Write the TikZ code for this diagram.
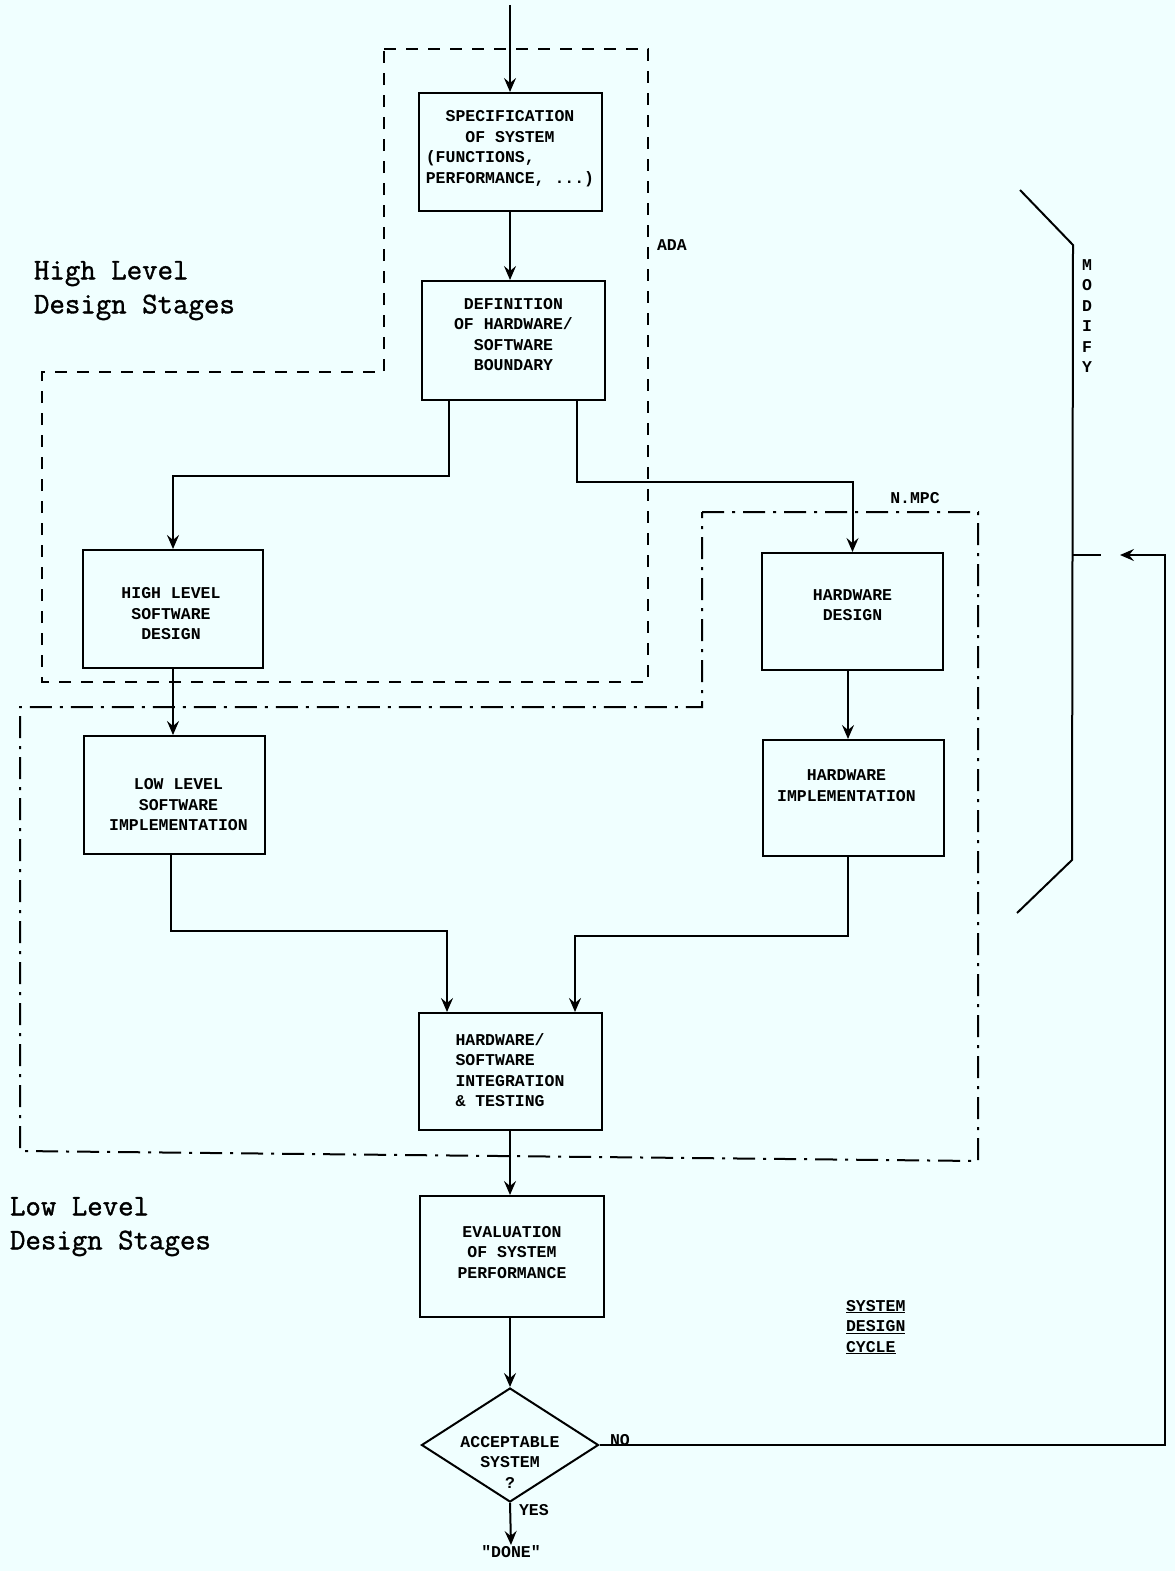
\documentclass[tikz,border=0pt]{standalone}
\usepackage{fontspec}
\usetikzlibrary{arrows.meta,shapes.geometric,calc}
\newfontfamily\plotfont{Liberation Mono}
\newfontfamily\typefont{Latin Modern Mono}[FakeBold=1.2]
\definecolor{paper}{RGB}{240,255,255}
\newcommand\boxfont{\plotfont\bfseries\fontsize{16.5}{20.5}\selectfont}
\newcommand\stagefont{\typefont\fontsize{30}{34}\selectfont}
\begin{document}
\begin{tikzpicture}[x=1pt,y=-1pt,
  line width=2pt,
  arr/.style={-{Stealth[length=14pt,width=12pt,inset=5pt]}},
  stagebox/.style={draw,inner sep=0pt},
  adaline/.style={line width=2pt,dash pattern=on 12pt off 10pt},
  mpcline/.style={line width=2pt,dash pattern=on 22pt off 8pt on 3pt off 8pt},
  lbl/.style={font=\boxfont,inner sep=0pt}]
\fill[paper] (0,0) rectangle (1175,1571);
\useasboundingbox (0,0) rectangle (1175,1571);

% design stage boxes
\node[stagebox,minimum width=183pt,minimum height=118pt] (spec) at (510,152) {};
\node[stagebox,minimum width=183pt,minimum height=119pt] (def) at (513.5,340.5) {};
\node[stagebox,minimum width=180pt,minimum height=118pt] (hlsd) at (173,609) {};
\node[stagebox,minimum width=181pt,minimum height=117pt] (hwd) at (852.5,611.5) {};
\node[stagebox,minimum width=181pt,minimum height=118pt] (llsi) at (174.5,795) {};
\node[stagebox,minimum width=181pt,minimum height=116pt] (hwi) at (853.5,798) {};
\node[stagebox,minimum width=183pt,minimum height=117pt] (integ) at (510,1071.5) {};
\node[stagebox,minimum width=184pt,minimum height=121pt] (eval) at (512,1256.5) {};
\node[diamond,draw,inner sep=0pt,minimum width=177pt,minimum height=114pt] (acc) at (510,1445) {};

% box texts
\node[lbl,align=center] at ([yshift=3.5pt]spec.center)
  {SPECIFICATION\\OF SYSTEM\\(FUNCTIONS,\phantom{XXXXXX}\\PERFORMANCE, ...)};
\node[lbl,align=center] at ([yshift=6pt]def.center)
  {DEFINITION\\OF HARDWARE/\\SOFTWARE\\BOUNDARY};
\node[lbl,align=center] at ([yshift=-5pt,xshift=-2pt]hlsd.center)
  {HIGH LEVEL\\SOFTWARE\\DESIGN};
\node[lbl,align=center] at ([yshift=6.5pt]hwd.center)
  {HARDWARE\\DESIGN};
\node[lbl,align=center] at ([yshift=-10pt,xshift=4pt]llsi.center)
  {LOW LEVEL\\SOFTWARE\\IMPLEMENTATION};
\node[lbl,align=center] at ([yshift=12.5pt,xshift=-7pt]hwi.center)
  {HARDWARE\\IMPLEMENTATION};
\node[lbl,align=left] at ([yshift=1.5pt]integ.center)
  {HARDWARE/\\SOFTWARE\\INTEGRATION\\\& TESTING};
\node[lbl,align=center] at ([yshift=4pt]eval.center)
  {EVALUATION\\OF SYSTEM\\PERFORMANCE};
\node[lbl,align=center] at ([yshift=-17pt]acc.center) {ACCEPTABLE\\SYSTEM\\?};
\node[lbl] (done) at (511,1552) {"DONE"};

% connectors
\coordinate (in) at (510,5);
\draw[arr] (in) -- (spec.north);
\draw[arr] (spec.south) -- (spec.south |- def.north);
\draw[arr] ([xshift=-64.5pt]def.south) -- ++(0,75) -| (hlsd.north);
\draw[arr] ([xshift=63.5pt]def.south) -- ++(0,81) -| (hwd.north);
\draw[arr] (hlsd.south) -- (hlsd.south |- llsi.north);
\draw[arr] ([xshift=-4.5pt]hwd.south) -- ([xshift=-4.5pt]hwd.south |- hwi.north);
\draw[arr] ([xshift=-3.5pt]llsi.south) -- ++(0,76) -| ([xshift=-63pt]integ.north);
\draw[arr] ([xshift=-5.5pt]hwi.south) -- ++(0,79) -| ([xshift=65pt]integ.north);
\draw[arr] (integ.south) -- (integ.south |- eval.north);
\draw[arr] (acc.north |- eval.south) -- (acc.north);
\draw[arr] (acc.south) -- (done.north);

% feedback to the modify bracket
\coordinate (fbc) at (1165,555);
\coordinate (fbtip) at (1120,555);
\draw[arr] (acc.east) -| (fbc) -- (fbtip);
\draw (1073,555) -- (1101,555);
\draw (1020,190) -- (1073,245) -- (1072,860) -- (1017,913);
\node[lbl,align=center] at (1087,316) {M\\O\\D\\I\\F\\Y};

% answer labels
\node[lbl,anchor=west] at (609,1440) {NO};
\node[lbl,anchor=west] at (518,1510) {YES};

% tool boundaries
\draw[adaline] (384,49) -- (648,49) -- (648,682) -- (42,682) -- (42,372) -- (384,372) -- cycle;
\node[lbl,anchor=west] at (656,245) {ADA};
\draw[mpcline] (702,512) -- (978,512) -- (978,1161) -- (20,1151) -- (20,707) -- (702,707) -- cycle;
\node[lbl] at (915,498) {N.MPC};

% stage captions
\node[font=\stagefont,align=left,anchor=north west,inner sep=0pt] at (33,260) {High Level\\Design Stages};
\node[font=\stagefont,align=left,anchor=north west,inner sep=0pt] at (9,1196) {Low Level\\Design Stages};

\node[lbl,align=left,anchor=north west] at (845,1299)
  {\underline{SYSTEM}\\\underline{DESIGN}\\\underline{CYCLE}};
\end{tikzpicture}
\end{document}
